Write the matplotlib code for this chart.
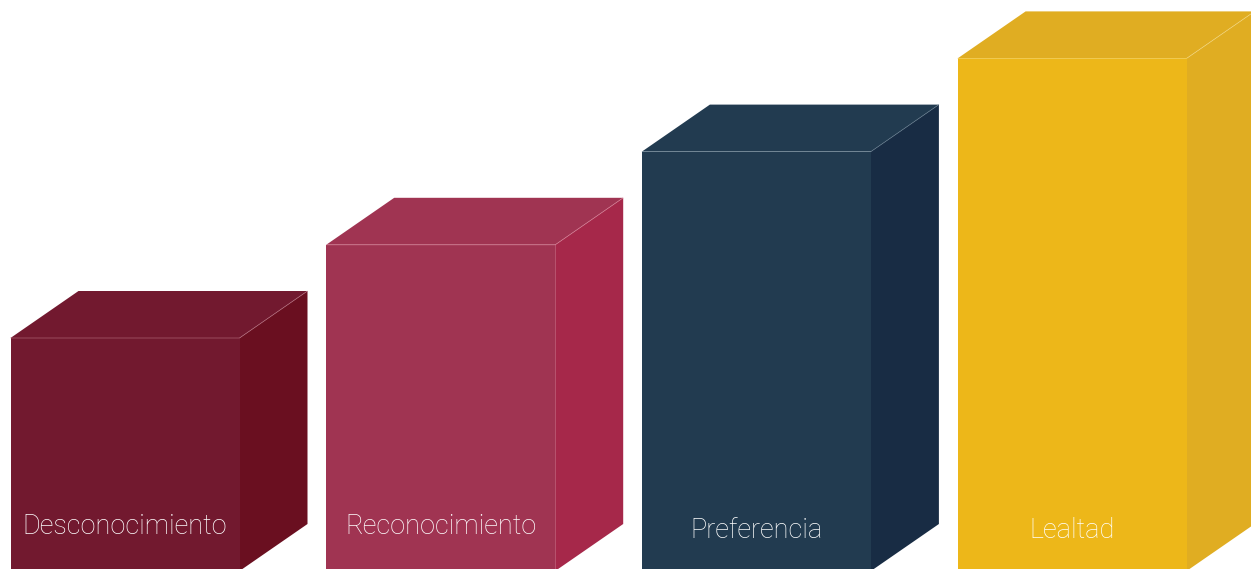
import matplotlib
matplotlib.use("Agg")
import matplotlib.pyplot as plt
from matplotlib.patches import Polygon

categories = ["Desconocimiento", "Reconocimiento", "Preferencia", "Lealtad"]
values = [2.5, 3.5, 4.5, 5.5]
front_colors = ["#72192F", "#A03452", "#223B50", "#EDB719"]
side_colors = ["#6A0F20", "#A6284A", "#182C44", "#E0AD22"]
top_colors = ["#72192F", "#A03452", "#223B50", "#E0AD22"]
edge_colors = ["#C07A8A", "#E08AA0", "#6A8294", "#F5DC8A"]

W, H, DPI = 1251, 569, 100
fig = plt.figure(figsize=(W / DPI, H / DPI), dpi=DPI)
ax = fig.add_axes([0, 0, 1, 1])
ax.set_axis_off()

px_x = 315.7   # pixels per category step
px_y = 93.2    # pixels per value unit
x0_px = 125.0  # pixel of first category centre
base_px = 571.0  # pixel row of value 0 (from top)
ax.set_xlim(-x0_px / px_x, (W - x0_px) / px_x)
ax.set_ylim((base_px - H) / px_y, base_px / px_y)

width = 229 / px_x
dx = 68 / px_x
dy = 47 / px_y

xs = list(range(len(categories)))
ax.bar(xs, values, width=width, color=front_colors, linewidth=0, zorder=3)

for i, v in enumerate(values):
    left = xs[i] - width / 2
    right = xs[i] + width / 2
    side = Polygon([(right, 0), (right, v), (right + dx, v + dy), (right + dx, dy)],
                   closed=True, facecolor=side_colors[i], edgecolor="none", zorder=2)
    top = Polygon([(left, v), (right, v), (right + dx, v + dy), (left + dx, v + dy)],
                  closed=True, facecolor=top_colors[i], edgecolor="none", zorder=2)
    ax.add_patch(side)
    ax.add_patch(top)
    ax.plot([left, right, right + dx], [v, v, v + dy], color=edge_colors[i],
            lw=0.6, alpha=0.6, zorder=4, solid_capstyle="butt")
    ty_px = 526 if i < 2 else 530
    ax.text(xs[i], (base_px - ty_px) / px_y, categories[i],
            ha="center", va="center", color="white", fontsize=19.5,
            family=["Roboto", "DejaVu Sans"], fontweight="light", zorder=5)

fig.savefig("out.png", dpi=DPI, facecolor="white")
